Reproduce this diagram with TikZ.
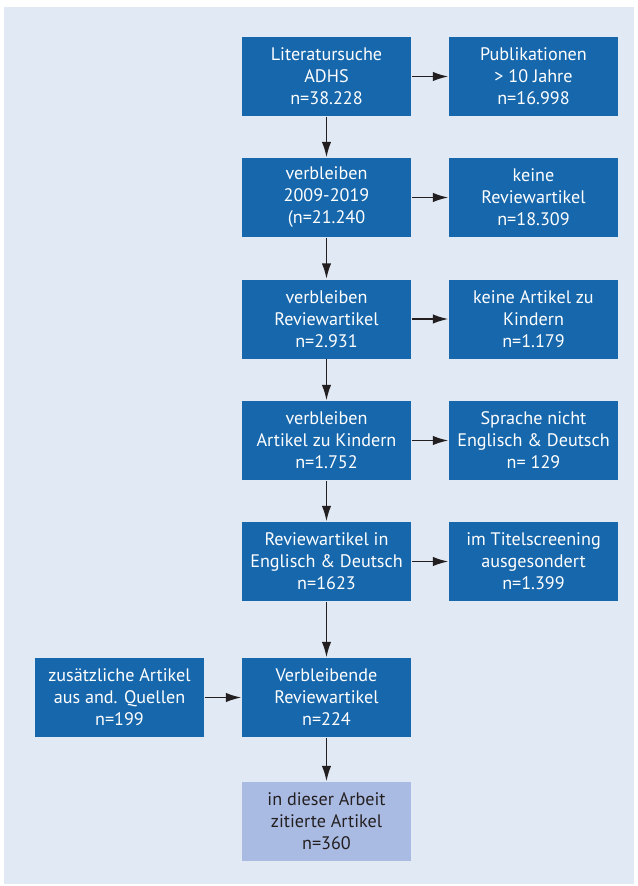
\documentclass[tikz,border=0pt]{standalone}
\usepackage{fontspec}
\setmainfont{PT Sans}
\usetikzlibrary{arrows.meta}
\definecolor{kastenblau}{HTML}{1767AC}
\definecolor{kastenhell}{HTML}{AABBE3}
\definecolor{grundfarbe}{HTML}{E0E9F4}
\definecolor{schrift}{HTML}{231F20}
\begin{document}
\begin{tikzpicture}[x=.75pt,y=-.75pt,line width=1.1pt,
  kasten/.style={fill=kastenblau,text=white,minimum width=126.75pt,minimum height=59.25pt,
    inner sep=0pt,align=center,font=\fontsize{13.6}{16.5}\selectfont},
  pfeil/.style={draw=schrift,-{Latex[length=11.5pt,width=7pt]}}]
\useasboundingbox (0,0) rectangle (638,886);
\fill[grundfarbe] (4,7) rectangle (634,884);
% Hauptspalte der Suche
\node[kasten] (suche) at (326.5,76.5) {Literatursuche\\ADHS\\n=38.228};
\node[kasten] (zeitraum) at (326.5,197.5) {verbleiben\\2009-2019\\(n=21.240};
\node[kasten] (review) at (326.5,319) {verbleiben\\Reviewartikel\\n=2.931};
\node[kasten] (kinder) at (326.5,440.5) {verbleiben\\Artikel zu Kindern\\n=1.752};
\node[kasten] (sprache) at (326.5,561.5) {Reviewartikel in\\Englisch \& Deutsch\\n=1623};
\node[kasten] (verbleib) at (326.5,697.5) {Verbleibende\\Reviewartikel\\n=224};
\node[kasten,fill=kastenhell,text=schrift] (zitiert) at (326.5,821.5) {in dieser Arbeit\\zitierte Artikel\\n=360};
% Ausschluesse rechts, Zugang links
\node[kasten] (alt) at (533.5,76.5) {Publikationen\\> 10 Jahre\\n=16.998};
\node[kasten] (keinreview) at (533.5,197.5) {keine\\Reviewartikel\\n=18.309};
\node[kasten] (keinkind) at (533.5,319) {keine Artikel zu\\Kindern\\n=1.179};
\node[kasten] (andsprache) at (533.5,440.5) {Sprache nicht\\Englisch \& Deutsch\\n= 129};
\node[kasten] (titel) at (533.5,561.5) {im Titelscreening\\ausgesondert\\n=1.399};
\node[kasten] (zusatz) at (119.5,697.5) {zusätzliche Artikel\\aus and. Quellen\\n=199};
\draw[pfeil] (suche) -- (zeitraum);
\draw[pfeil] (zeitraum) -- (review);
\draw[pfeil] (review) -- (kinder);
\draw[pfeil] (kinder) -- (sprache);
\draw[pfeil] (sprache) -- (verbleib);
\draw[pfeil] (verbleib) -- (zitiert);
\draw[pfeil] (suche) -- (alt);
\draw[pfeil] (zeitraum) -- (keinreview);
\draw[pfeil] (review) -- (keinkind);
\draw[pfeil] (kinder) -- (andsprache);
\draw[pfeil] (sprache) -- (titel);
\draw[pfeil] (zusatz) -- (verbleib);
\end{tikzpicture}
\end{document}
